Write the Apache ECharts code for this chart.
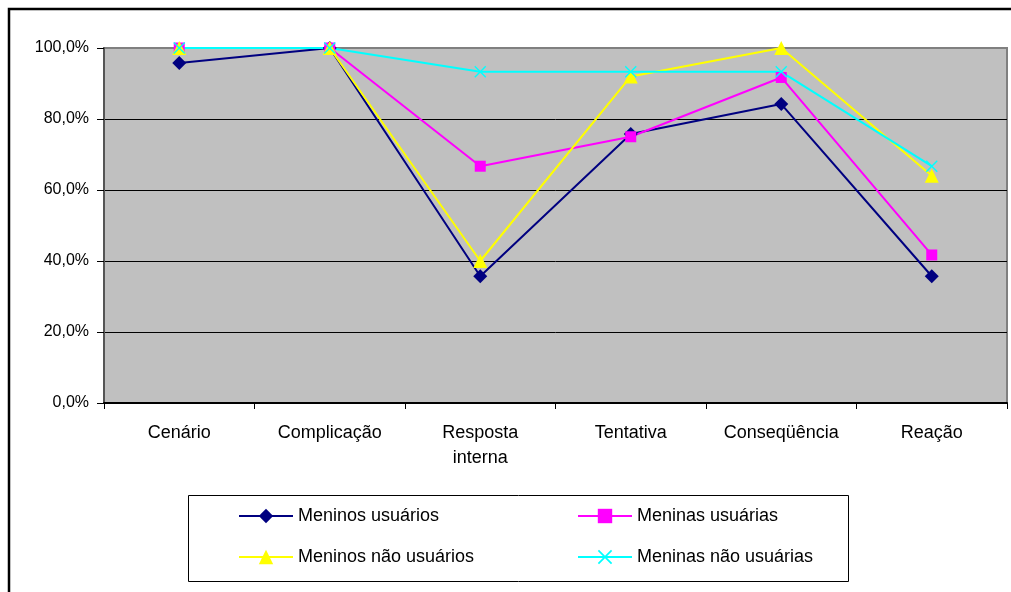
<!DOCTYPE html>
<html>
<head>
<meta charset="utf-8">
<script src="https://cdn.jsdelivr.net/npm/echarts@6/dist/echarts.min.js"></script>
<style>html,body{margin:0;padding:0;background:#fff;}#c{width:1011px;height:592px;}</style>
</head>
<body>
<div id="c"></div>
<script>
var categories = ['Cenário', 'Complicação', 'Resposta\ninterna', 'Tentativa', 'Conseqüência', 'Reação'];
var meninosUsuarios = [95.8, 100, 35.7, 75.8, 84.2, 35.7];
var meninasUsuarias = [100, 100, 66.7, 75.0, 91.7, 41.7];
var meninosNaoUsuarios = [100, 100, 40.0, 92.0, 100, 64.0];
var meninasNaoUsuarias = [100, 100, 93.3, 93.3, 93.3, 66.7];
var yTicks = [0, 20, 40, 60, 80, 100];

var FONT = '"Liberation Sans", Arial, sans-serif';
var xSymbol = 'path://M0,1 L1,0 L6,5 L11,0 L12,1 L7,6 L12,11 L11,12 L6,7 L1,12 L0,11 L5,6 Z';

function mk(name, data, color, symbol, size) {
  return {
    name: name, type: 'line', data: data,
    symbol: symbol, symbolSize: size,
    lineStyle: { color: color, width: 2 },
    itemStyle: { color: color },
    animation: false
  };
}

var legendCommon = {
  orient: 'vertical', top: 507, padding: 0,
  itemWidth: 54, itemHeight: 18, itemGap: 23,
  lineStyle: { width: 2 },
  textStyle: { color: '#000', fontSize: 18, fontFamily: FONT }
};

var chart = echarts.init(document.getElementById('c'));
chart.setOption({
  backgroundColor: '#fff',
  animation: false,
  textStyle: { fontFamily: FONT },
  grid: {
    left: 104, right: 4, top: 48, bottom: 189,
    show: true, backgroundColor: '#C0C0C0', borderColor: '#808080', borderWidth: 2
  },
  xAxis: {
    type: 'category', data: categories, boundaryGap: true,
    axisLine: { lineStyle: { color: '#000', width: 2 } },
    axisTick: { show: true, alignWithLabel: false, length: 6, lineStyle: { color: '#000', width: 1 } },
    axisLabel: { color: '#000', fontSize: 18, fontFamily: FONT, margin: 18, lineHeight: 25, interval: 0 },
    splitLine: { show: false }
  },
  yAxis: {
    type: 'value', min: yTicks[0], max: yTicks[yTicks.length - 1], interval: 20,
    axisLine: { show: true, lineStyle: { color: '#555', width: 2 } },
    axisTick: { show: true, length: 7, lineStyle: { color: '#000', width: 1 } },
    axisLabel: {
      color: '#000', fontSize: 16, fontFamily: FONT, margin: 15,
      formatter: function (v) { return v.toFixed(1).replace('.', ',') + '%'; }
    },
    splitLine: { show: true, lineStyle: { color: ['#808080', '#000', '#000', '#000', '#000', '#808080'], width: 1 } }
  },
  legend: [
    Object.assign({ data: ['Meninos usuários', 'Meninos não usuários'], left: 238 }, legendCommon),
    Object.assign({ data: ['Meninas usuárias', 'Meninas não usuárias'], left: 577 }, legendCommon)
  ],
  graphic: [
    { type: 'rect', shape: { x: 9, y: 9, width: 1100, height: 700 }, style: { fill: 'none', stroke: '#000', lineWidth: 2.5 }, silent: true },
    { type: 'rect', shape: { x: 188.5, y: 495.5, width: 660, height: 86 }, style: { fill: 'none', stroke: '#000', lineWidth: 1 }, silent: true }
  ],
  series: [
    mk('Meninos usuários', meninosUsuarios, '#000080', 'diamond', 14),
    mk('Meninas usuárias', meninasUsuarias, '#FF00FF', 'rect', 11),
    mk('Meninos não usuários', meninosNaoUsuarios, '#FFFF00', 'triangle', 14),
    mk('Meninas não usuárias', meninasNaoUsuarias, '#00FFFF', xSymbol, 12)
  ]
});
</script>
</body>
</html>
